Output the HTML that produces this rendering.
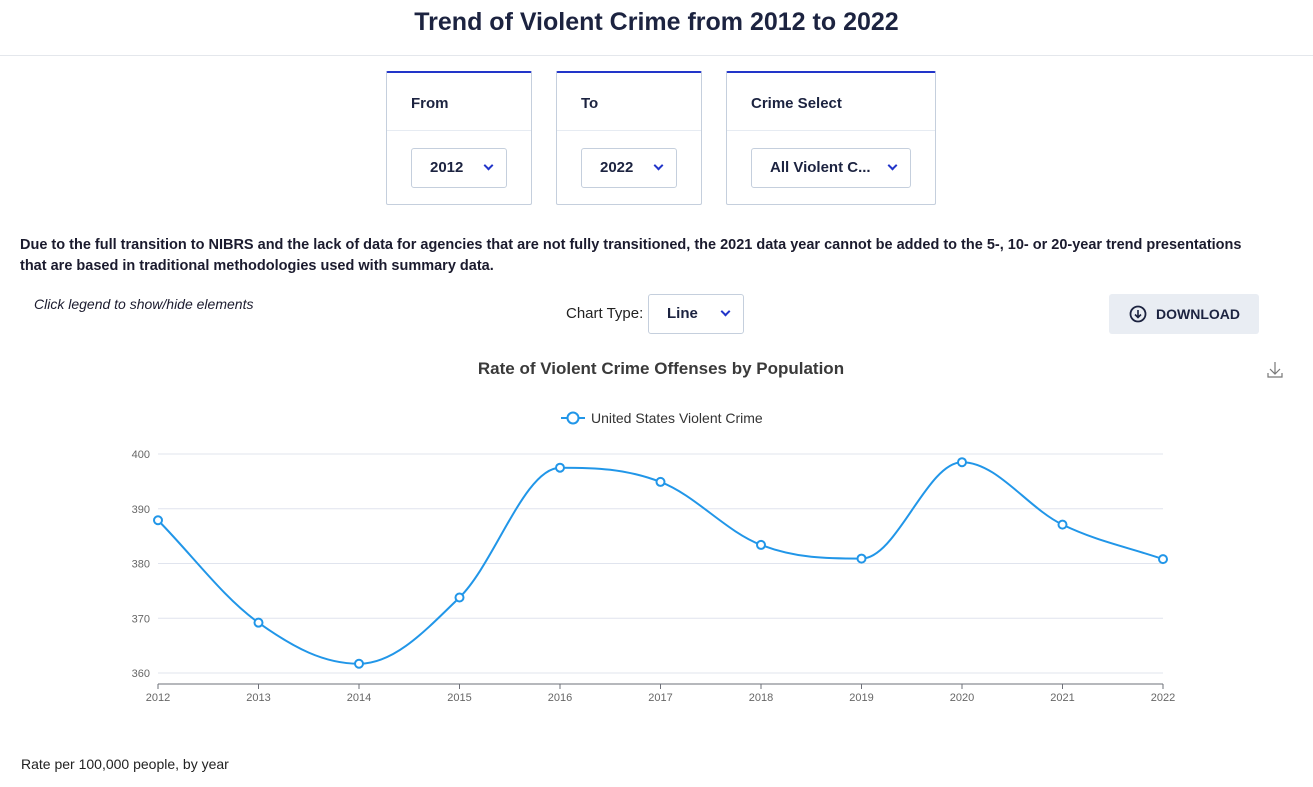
<!DOCTYPE html>
<html><head><meta charset="utf-8"><style>
body{margin:0;width:1313px;height:787px;background:#fff;font-family:"Liberation Sans",sans-serif;color:#1b1b2e;position:relative;overflow:hidden}
.abs{position:absolute}
.title{left:0;width:1313px;top:8px;text-align:center;font-size:25px;font-weight:bold;color:#1c2340}
.hr{left:0;top:55px;width:1313px;height:1px;background:#e4e7ec}
.card{top:71px;height:131px;border:1px solid #c5cfdd;border-top:2px solid #2235c9;border-radius:2px;background:#fff}
.card .lab{position:absolute;left:24px;top:22px;font-size:15px;font-weight:bold;color:#1c2340}
.card .sep{position:absolute;left:0;right:0;top:57px;height:1px;background:#e6ebf2}
.sel{position:absolute;top:75px;height:38px;border:1px solid #c5cfdd;border-radius:3px;font-size:15px;font-weight:bold;color:#1c2340;line-height:38px}
.chev{position:absolute;width:5px;height:5px;border-right:2px solid #2235c9;border-bottom:2px solid #2235c9;transform:rotate(45deg);top:13px}
.note{left:20px;top:235px;width:1250px;font-size:14.5px;font-weight:bold;line-height:21px;color:#1b1b2e}
</style></head><body>
<div class="abs title">Trend of Violent Crime from 2012 to 2022</div>
<div class="abs hr"></div>

<div class="abs card" style="left:386px;width:144px">
 <div class="lab">From</div><div class="sep"></div>
 <div class="sel" style="left:24px;width:94px"><span style="position:absolute;left:18px">2012</span><span class="chev" style="left:73px"></span></div>
</div>
<div class="abs card" style="left:556px;width:144px">
 <div class="lab">To</div><div class="sep"></div>
 <div class="sel" style="left:24px;width:94px"><span style="position:absolute;left:18px">2022</span><span class="chev" style="left:73px"></span></div>
</div>
<div class="abs card" style="left:726px;width:208px">
 <div class="lab">Crime Select</div><div class="sep"></div>
 <div class="sel" style="left:24px;width:158px"><span style="position:absolute;left:18px">All Violent C...</span><span class="chev" style="left:137px"></span></div>
</div>

<div class="abs note">Due to the full transition to NIBRS and the lack of data for agencies that are not fully transitioned, the 2021 data year cannot be added to the 5-, 10- or 20-year trend presentations that are based in traditional methodologies used with summary data.</div>
<div class="abs" style="left:34px;top:296px;font-size:14px;font-style:italic">Click legend to show/hide elements</div>
<div class="abs" style="left:566px;top:305px;font-size:15px;color:#222">Chart Type:</div>
<div class="abs sel" style="left:648px;top:294px;width:94px;height:38px"><span style="position:absolute;left:18px">Line</span><span class="chev" style="left:73px"></span></div>
<div class="abs" style="left:1109px;top:294px;width:150px;height:40px;background:#e9edf3;border-radius:3px;font-size:14px;font-weight:bold;line-height:40px;color:#1c2340">
 <svg style="position:absolute;left:20px;top:11px" width="18" height="18"><circle cx="9" cy="9" r="7.5" fill="none" stroke="#1c2340" stroke-width="1.8"/><path d="M9 5v7M6 9.5l3 3 3-3" fill="none" stroke="#1c2340" stroke-width="1.6"/></svg>
 <span style="position:absolute;left:47px">DOWNLOAD</span></div>

<svg class="abs" style="left:0;top:0" width="1313" height="787" id="chart">
 <text x="661" y="374" text-anchor="middle" font-size="17" font-weight="bold" fill="#3a3a3a">Rate of Violent Crime Offenses by Population</text>
 <g stroke="#777" stroke-width="1.2" fill="none"><path d="M1275 362v12M1270 369l5 5 5-5M1268 373v4h14v-4"/></g>
 <g><line x1="561" y1="418" x2="585" y2="418" stroke="#2196e8" stroke-width="2"/><circle cx="573" cy="418" r="5.5" fill="#fff" stroke="#2196e8" stroke-width="2"/><text x="591" y="423" font-size="14" fill="#333">United States Violent Crime</text></g>
 <g id="grid"></g><g id="series"></g>
 <text x="21" y="769" font-size="14" fill="#222">Rate per 100,000 people, by year</text>
</svg>
<script>
const years=["2012","2013","2014","2015","2016","2017","2018","2019","2020","2021","2022"];
const rates=[387.9,369.2,361.7,373.8,397.5,394.9,383.4,380.9,398.5,387.1,380.8];
const yTicks=[360,370,380,390,400];
const NS="http://www.w3.org/2000/svg";
const x0=158,x1=1163,yMin=358,yMax=400,pTop=454,pBot=684;
const xs=i=>x0+(x1-x0)*i/(years.length-1);
const ys=v=>pBot-(v-yMin)/(yMax-yMin)*(pBot-pTop);
function mk(t,a,p){const e=document.createElementNS(NS,t);for(const k in a)e.setAttribute(k,a[k]);p.appendChild(e);return e;}
const g=document.getElementById('grid'),s=document.getElementById('series');
yTicks.forEach(v=>{
 const l=mk('line',{x1:x0,x2:x1,y1:ys(v),y2:ys(v),stroke:'#e0e4ee'},g);
 
 
 const t=mk('text',{x:x0-8,y:ys(v)+4,'text-anchor':'end','font-size':11,fill:'#666'},g);t.textContent=v;
 
 
});
const ax=mk('line',{x1:x0,x2:x1,y1:pBot,y2:pBot,stroke:'#6e7079'},g);


years.forEach((y,i)=>{
 mk('line',{x1:xs(i),x2:xs(i),y1:pBot,y2:pBot+5,stroke:'#6e7079'},g);
 const t=mk('text',{x:xs(i),y:pBot+17,'text-anchor':'middle','font-size':11,fill:'#666'},g);t.textContent=y;
 
 
});
const P=rates.map((v,i)=>[xs(i),ys(v)]);
let d='M'+P[0][0]+' '+P[0][1];const sm=0.35;
for(let i=0;i<P.length-1;i++){
 const p0=P[Math.max(i-1,0)],p1=P[i],p2=P[i+1],p3=P[Math.min(i+2,P.length-1)];
 let c1y=p1[1]+(p2[1]-p0[1])*sm/ ((p2[0]-p0[0])/(p2[0]-p1[0]));
 let c2y=p2[1]-(p3[1]-p1[1])*sm/ ((p3[0]-p1[0])/(p2[0]-p1[0]));
 if(i>0&&((p1[1]-p0[1])*(p2[1]-p1[1])<=0))c1y=p1[1];
 if(i<P.length-2&&((p2[1]-p1[1])*(p3[1]-p2[1])<=0))c2y=p2[1];
 const dx=(p2[0]-p1[0])*sm;
 d+=` C${p1[0]+dx} ${c1y} ${p2[0]-dx} ${c2y} ${p2[0]} ${p2[1]}`;
}
const path=mk('path',{d:d,fill:'none',stroke:'#2196e8','stroke-width':2},s);


P.forEach((p,i)=>{
 const c=mk('circle',{cx:p[0],cy:p[1],r:4,fill:'#fff',stroke:'#2196e8','stroke-width':2},s);
 
 
});
</script>
</body></html>
